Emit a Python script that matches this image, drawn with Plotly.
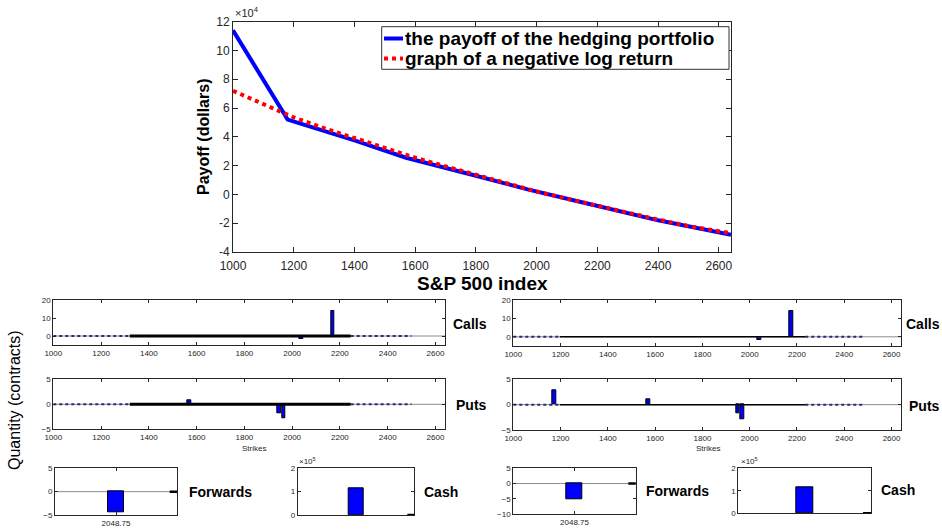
import plotly.graph_objects as go

W, H = 942, 531
FONT = "Liberation Sans, Arial, Helvetica, sans-serif"
AX = "#262626"
BLUE = "#0000FF"
RED = "#FF0000"

# ---------------- main panel data ----------------
spx_hedge = [1000, 1180, 1400, 1570, 1800, 1950, 1970, 2170, 2400, 2640]
payoff_hedge = [114000, 52000, 37500, 25500, 13000, 4500, 3500, -6500, -18000, -28000]
spx_log = [1000, 1100, 1200, 1300, 1400, 1500, 1600, 1700, 1800, 1900, 2000,
           2100, 2200, 2300, 2400, 2500, 2600, 2640]
payoff_log = [72000, 62500, 53500, 46000, 39000, 32000, 25500, 19500, 13500, 7500, 2000,
              -3000, -8000, -13000, -17500, -22000, -26000, -27000]
main_xticks = [1000, 1200, 1400, 1600, 1800, 2000, 2200, 2400, 2600]
main_yticks = [-40000, -20000, 0, 20000, 40000, 60000, 80000, 100000, 120000]
main_yticklabels = ["-4", "-2", "0", "2", "4", "6", "8", "10", "12"]
legend_names = ["the payoff of the hedging portfolio", "graph of a negative log return"]

# ---------------- lower panels data ----------------
call_strikes_L = [2040, 2170]
call_qty_L = [-1.8, 14]
put_strikes_L = [1570, 1945, 1965]
put_qty_L = [0.9, -1.7, -2.8]
call_strikes_R = [2042, 2175]
call_qty_R = [-1.8, 14]
put_strikes_R = [1175, 1570, 1950, 1970]
put_qty_R = [2.8, 1.0, -1.7, -2.9]
forward_label = ["2048.75"]
forward_qty_L = [-4.4]
forward_qty_R = [-5.2]
cash_label = ["cash"]
cash_L = [115000]
cash_R = [115000]
strike_ticks = [1000, 1200, 1400, 1600, 1800, 2000, 2200, 2400, 2600]
# strikes with (zero) quoted positions, drawn as the bar baseline band
dense_L = [1320, 2245]
sparse_L = [[1000, 1320], [2245, 2500]]
dense_R = [1197, 2235]
sparse_R = [[1000, 1197], [2235, 2488]]


def px_x(a, b):
    return [a / W, b / W]


def px_y(top, bottom):
    return [1 - bottom / H, 1 - top / H]


fig = go.Figure()

# main lines
fig.add_trace(go.Scatter(x=spx_hedge, y=payoff_hedge, mode="lines",
                         line=dict(color=BLUE, width=4), name=legend_names[0],
                         xaxis="x", yaxis="y", showlegend=False))
fig.add_trace(go.Scatter(x=spx_log, y=payoff_log, mode="lines",
                         line=dict(color=RED, width=4, dash="dot"), name=legend_names[1],
                         xaxis="x", yaxis="y", showlegend=False))


def baseline_traces(xa, ya, dense, sparse, dense_w):
    fig.add_trace(go.Scatter(x=[1000, 2640], y=[0, 0], mode="lines",
                             line=dict(color="#8c8c8c", width=1), xaxis=xa, yaxis=ya,
                             showlegend=False, hoverinfo="skip"))
    for seg in sparse:
        fig.add_trace(go.Scatter(x=seg, y=[0, 0], mode="lines",
                                 line=dict(color="#2a2a7a", width=2, dash="dot"),
                                 xaxis=xa, yaxis=ya, showlegend=False, hoverinfo="skip"))
    fig.add_trace(go.Scatter(x=dense, y=[0, 0], mode="lines",
                             line=dict(color="#000000", width=dense_w), xaxis=xa, yaxis=ya,
                             showlegend=False, hoverinfo="skip"))


def bars(xa, ya, x, y, width):
    fig.add_trace(go.Bar(x=x, y=y, width=width, marker=dict(color=BLUE, line=dict(color="black", width=1)),
                         xaxis=xa, yaxis=ya, showlegend=False))


# left calls (x2,y2), left puts (x3,y3), right calls (x6,y6), right puts (x7,y7)
baseline_traces("x2", "y2", dense_L, sparse_L, 3)
bars("x2", "y2", call_strikes_L, call_qty_L, 16)
baseline_traces("x3", "y3", dense_L, sparse_L, 3)
bars("x3", "y3", put_strikes_L, put_qty_L, 16)
baseline_traces("x6", "y6", dense_R, sparse_R, 1.5)
bars("x6", "y6", call_strikes_R, call_qty_R, 16)
baseline_traces("x7", "y7", dense_R, sparse_R, 1.5)
bars("x7", "y7", put_strikes_R, put_qty_R, 16)

# forwards & cash
bars("x4", "y4", forward_label, forward_qty_L, 0.9)
bars("x5", "y5", cash_label, cash_L, 0.9)
bars("x8", "y8", forward_label, forward_qty_R, 0.9)
bars("x9", "y9", cash_label, cash_R, 0.9)


def axis(domain, size, ticklen, **kw):
    d = dict(domain=domain, showline=True, linecolor=AX, linewidth=1, mirror="ticks",
             ticks="inside", ticklen=ticklen, tickwidth=1, tickcolor=AX,
             showgrid=False, zeroline=False, fixedrange=True, automargin=False,
             tickfont=dict(family=FONT, size=size, color=AX))
    d.update(kw)
    return d


layout = dict(
    width=W, height=H, margin=dict(l=0, r=0, t=0, b=0, pad=0, autoexpand=False),
    paper_bgcolor="white", plot_bgcolor="white", bargap=0,
    font=dict(family=FONT, color=AX),
    xaxis=axis(px_x(233, 731), 12, 5, range=[1000, 2640], tickvals=main_xticks, anchor="y",
               ticklabelstandoff=3),
    yaxis=axis(px_y(21.7, 252), 12, 5, range=[-40000, 120000], tickvals=main_yticks,
               ticktext=main_yticklabels, anchor="x"),
    xaxis2=axis(px_x(53.3, 445), 8, 3, range=[1000, 2640], tickvals=strike_ticks, anchor="y2"),
    yaxis2=axis(px_y(300, 345), 8, 3, range=[-5, 20], tickvals=[0, 10, 20], anchor="x2"),
    xaxis3=axis(px_x(53.3, 445), 8, 3, range=[1000, 2640], tickvals=strike_ticks, anchor="y3"),
    yaxis3=axis(px_y(379.3, 429.3), 8, 3, range=[-5, 5], tickvals=[-5, 0, 5], anchor="x3"),
    xaxis4=axis(px_x(55, 177), 8, 3, type="category", range=[-3.5, 3.5], anchor="y4"),
    yaxis4=axis(px_y(468.3, 515), 8, 3, range=[-5, 5], tickvals=[-5, 0, 5], anchor="x4"),
    xaxis5=axis(px_x(297.7, 414.3), 8, 3, type="category", range=[-3.5, 3.5],
                showticklabels=False, ticks="", anchor="y5"),
    yaxis5=axis(px_y(468.3, 515), 8, 3, range=[0, 200000], tickvals=[0, 100000, 200000],
                ticktext=["0", "1", "2"], anchor="x5"),
    xaxis6=axis(px_x(513.3, 901), 8, 3, range=[1000, 2640], tickvals=strike_ticks, anchor="y6"),
    yaxis6=axis(px_y(300, 346), 8, 3, range=[-5, 20], tickvals=[0, 10, 20], anchor="x6"),
    xaxis7=axis(px_x(513.3, 901), 8, 3, range=[1000, 2640], tickvals=strike_ticks, anchor="y7"),
    yaxis7=axis(px_y(379.3, 430), 8, 3, range=[-5, 5], tickvals=[-5, 0, 5], anchor="x7"),
    xaxis8=axis(px_x(513.3, 635.7), 8, 3, type="category", range=[-3.5, 3.5], anchor="y8"),
    yaxis8=axis(px_y(468.3, 514), 8, 3, range=[-10, 5], tickvals=[-10, -5, 0, 5], anchor="x8"),
    xaxis9=axis(px_x(738.3, 871), 8, 3, type="category", range=[-3.5, 3.5],
                showticklabels=False, ticks="", anchor="y9"),
    yaxis9=axis(px_y(468.3, 513.3), 8, 3, range=[0, 200000], tickvals=[0, 100000, 200000],
                ticktext=["0", "1", "2"], anchor="x9"),
)
fig.update_layout(**layout)

shapes = []
# baselines in forwards / cash panels
for xa, ya in [("x4", "y4"), ("x8", "y8")]:
    shapes.append(dict(type="line", xref=f"{xa} domain", yref=ya, x0=0, x1=1, y0=0, y1=0,
                       line=dict(color="#8c8c8c", width=1), layer="below"))
    shapes.append(dict(type="line", xref=f"{xa} domain", yref=ya, x0=0.94, x1=1, y0=0, y1=0,
                       line=dict(color="black", width=2.5)))
for xa, ya in [("x5", "y5"), ("x9", "y9")]:
    shapes.append(dict(type="line", xref=f"{xa} domain", yref=ya, x0=0.94, x1=1, y0=0, y1=0,
                       line=dict(color="black", width=2.5)))

# manual legend box
lx0, lx1, ly0, ly1 = 381.7, 729, 26.7, 69.3
shapes.append(dict(type="rect", xref="paper", yref="paper", x0=lx0 / W, x1=lx1 / W,
                   y0=1 - ly1 / H, y1=1 - ly0 / H, line=dict(color="#333333", width=1),
                   fillcolor="white"))
shapes.append(dict(type="line", xref="paper", yref="paper", x0=384 / W, x1=403 / W,
                   y0=1 - 38.5 / H, y1=1 - 38.5 / H, line=dict(color=BLUE, width=4)))
shapes.append(dict(type="line", xref="paper", yref="paper", x0=384 / W, x1=403 / W,
                   y0=1 - 58.5 / H, y1=1 - 58.5 / H, line=dict(color=RED, width=4, dash="dot")))
fig.update_layout(shapes=shapes)

ann = []


def text(t, x, y, size, bold=False, xanchor="left", yanchor="middle", angle=0, color="#000000"):
    ann.append(dict(text=f"<b>{t}</b>" if bold else t, x=x / W, y=1 - y / H, xref="paper",
                    yref="paper", showarrow=False, xanchor=xanchor, yanchor=yanchor,
                    textangle=angle, borderpad=0, font=dict(family=FONT, size=size, color=color)))


text(legend_names[0], 404, 38.5, 19, bold=True)
text(legend_names[1], 404, 58.5, 19, bold=True)
text("×10<sup>4</sup>", 234, 19.5, 11, yanchor="bottom", color=AX)
text("S&P 500 index", 482, 283, 19, bold=True, xanchor="center")
text("Payoff (dollars)", 203, 137, 16, bold=True, xanchor="center", angle=-90)
text("Quantity (contracts)", 14, 400, 16, xanchor="center", angle=-90)
text("Calls", 451.7, 324, 14, bold=True)
text("Calls", 941, 324, 14, bold=True, xanchor="right")
text("Puts", 455, 405, 14, bold=True)
text("Puts", 941, 405.7, 14, bold=True, xanchor="right")
text("Forwards", 188, 491.7, 14, bold=True)
text("Forwards", 645, 490.7, 14, bold=True)
text("Cash", 423, 491.7, 14, bold=True)
text("Cash", 880, 490, 14, bold=True)
text("Strikes", 254, 448, 8, xanchor="center", color=AX)
text("Strikes", 708, 448, 8, xanchor="center", color=AX)
text("×10<sup>5</sup>", 298, 467, 8, yanchor="bottom", color=AX)
text("×10<sup>5</sup>", 740, 467, 8, yanchor="bottom", color=AX)
fig.update_layout(annotations=ann)

fig.write_html("out.html", config={"displayModeBar": False},
               post_script="document.body.style.margin='0px';")
